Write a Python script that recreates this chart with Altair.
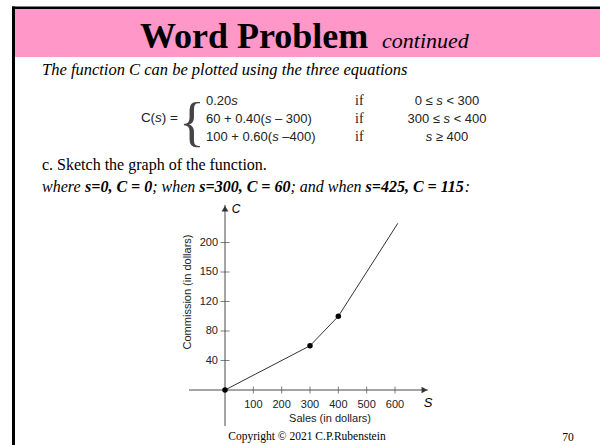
import altair as alt
import pandas as pd

# ---- data -------------------------------------------------------------
# commission curve C(s): breakpoints of the piecewise function
curve_s = [0, 300, 400, 610]
curve_c = [0, 60, 100, 226]

# highlighted points on the curve
dot_s = [0, 300, 400]
dot_c = [0, 60, 100]

# axis ticks and their printed labels
x_tick_values = [100, 200, 300, 400, 500, 600]
x_tick_labels = ["100", "200", "300", "400", "500", "600"]
y_tick_values = [40, 80, 120, 160, 200]
y_tick_labels = ["40", "80", "120", "150", "200"]

# extent of the drawn axis lines (data units)
x_axis_span = [-127, 716]
y_axis_span = [-49, 251]

# piecewise definition shown above the graph ("s" is set in italic)
eq_rows = ["0.20s", "60 + 0.40(s \u2013 300)", "100 + 0.60(s \u2013400)"]
eq_conditions = ["0 \u2264 s < 300", "300 \u2264 s < 400", "s \u2265 400"]

# ---- geometry ---------------------------------------------------------
W, H = 600, 445
ORIGIN_X, ORIGIN_Y = 225, 390
PX_PER_S = 0.28333
PX_PER_C = 0.7375

xs = alt.Scale(domain=[-ORIGIN_X / PX_PER_S, (W - ORIGIN_X) / PX_PER_S], nice=False, zero=False)
ys = alt.Scale(domain=[-(H - ORIGIN_Y) / PX_PER_C, ORIGIN_Y / PX_PER_C], nice=False, zero=False)

SERIF = "Liberation Serif"
SANS = "Liberation Sans"
AXIS_GREY = "#4a4a4a"
EQ_COLOR = "#222"


def X(field):
    return alt.X(field, type="quantitative", scale=xs, axis=None)


def Y(field):
    return alt.Y(field, type="quantitative", scale=ys, axis=None)


one = pd.DataFrame({"k": [0]})


def label(text, x, y, size, font=SERIF, style="normal", weight="normal",
          align="left", baseline="alphabetic", color="black", angle=0):
    return alt.Chart(pd.DataFrame({"t": [text]})).mark_text(
        font=font, fontSize=size, fontStyle=style, fontWeight=weight,
        align=align, baseline=baseline, color=color, angle=angle,
    ).encode(x=alt.value(x), y=alt.value(y), text="t:N")


def box(x0, x1, y0, y1, color):
    return alt.Chart(one).mark_rect(color=color).encode(
        x=alt.value(x0), x2=alt.value(x1), y=alt.value(y0), y2=alt.value(y1)
    )


# advance widths (per 1000 em) used to lay out mixed-style runs
SANS_W = {".": 278, " ": 278, "+": 584, "(": 333, ")": 333, "\u2013": 556,
          "s": 500, "\u2264": 549, "<": 584, "\u2265": 549, "=": 584, "C": 722}
for dgt in "0123456789":
    SANS_W[dgt] = 556


def run_width(text, table, size):
    return sum(table.get(ch, 500) for ch in text) / 1000 * size


def place_run(text, cur, y, size, table, **kw):
    """Draw one run at cursor `cur`; leading blanks only advance the cursor."""
    stripped = text.lstrip(" ")
    start = cur + run_width(text[: len(text) - len(stripped)], table, size)
    return label(stripped, start, y, size, **kw), cur + run_width(text, table, size)


def math_runs(text, x, y, size, align="left"):
    """Draw an expression with every 's' in italic."""
    pieces, buf = [], ""
    for ch in text:
        if ch == "s":
            if buf:
                pieces.append((buf, "normal"))
                buf = ""
            pieces.append(("s", "italic"))
        else:
            buf += ch
    if buf:
        pieces.append((buf, "normal"))
    total = run_width(text, SANS_W, size)
    cur = x - total / 2 if align == "center" else (x - total if align == "right" else x)
    out = []
    for txt, style in pieces:
        mark, cur = place_run(txt, cur, y, size, SANS_W, font=SANS, style=style, color=EQ_COLOR)
        out.append(mark)
    return out


# ---- slide frame and header -------------------------------------------
frame = [
    box(15, 600, 9, 57, "#ff97c9"),
    box(12, 600, 6.5, 9, "black"),
    box(12, 15, 6.5, 445, "black"),
]
header = [
    label("Word Problem", 140, 48, 36, weight="bold"),
    label("continued", 382, 48, 22, style="italic"),
]

# ---- text body --------------------------------------------------------
body = [
    label("The function C can be plotted using the three equations", 42, 75, 16.5, style="italic"),
    label("{", 179, 140, 54, font=SERIF, color="#444"),
    label("c. Sketch the graph of the function.", 42, 170, 16),
]
body += math_runs("C(s) =", 178, 122, 13.5, align="right")
row_base = [105, 123, 141]
for row, cond, yb in zip(eq_rows, eq_conditions, row_base):
    body += math_runs(row, 206, yb, 13)
    body.append(label("if", 355, yb, 14, color=EQ_COLOR))
    body += math_runs(cond, 447, yb, 13, align="center")

# mixed italic / bold-italic sentence, laid out segment by segment
ITALIC_W = {"w": 667, "h": 500, "e": 444, "r": 389, " ": 250, ";": 333,
            "n": 500, "a": 500, "d": 500, ":": 333}
BOLD_ITALIC_W = {"s": 389, "=": 570, ",": 250, " ": 250, "C": 667}
for dgt in "0123456789":
    BOLD_ITALIC_W[dgt] = 500

where_parts = [("where ", False), ("s=0, C = 0", True), ("; when ", False),
               ("s=300, C = 60", True), ("; and when ", False),
               ("s=425, C = 115", True), (":", False)]
cursor = 42.0
WHERE_SIZE = 16
for text, bold in where_parts:
    mark, cursor = place_run(text, cursor, 192, WHERE_SIZE,
                             BOLD_ITALIC_W if bold else ITALIC_W,
                             style="italic", weight="bold" if bold else "normal")
    body.append(mark)

footer = [
    label("Copyright \u00a9 2021 C.P.Rubenstein", 307, 440, 11.5, align="center"),
    label("70", 568, 441, 11.5, align="center"),
]

# ---- graph ------------------------------------------------------------
x_axis = alt.Chart(pd.DataFrame({"a": [x_axis_span[0]], "b": [x_axis_span[1]], "c": [0]})).mark_rule(
    color=AXIS_GREY, strokeWidth=1
).encode(x=X("a"), x2="b", y=Y("c"))

y_axis = alt.Chart(pd.DataFrame({"a": [y_axis_span[0]], "b": [y_axis_span[1]], "s": [0]})).mark_rule(
    color=AXIS_GREY, strokeWidth=1
).encode(x=X("s"), y=Y("a"), y2="b")

x_ticks_df = pd.DataFrame({"s": x_tick_values, "lab": x_tick_labels, "c": 0})
y_ticks_df = pd.DataFrame({"c": y_tick_values, "lab": y_tick_labels, "s": 0})

x_ticks = alt.Chart(x_ticks_df).mark_tick(orient="vertical", size=7, thickness=1, color=AXIS_GREY).encode(
    x=X("s"), y=Y("c"))
y_ticks = alt.Chart(y_ticks_df).mark_tick(orient="horizontal", size=9, thickness=1, color=AXIS_GREY).encode(
    x=X("s"), y=Y("c"))

x_labels = alt.Chart(x_ticks_df).mark_text(
    font=SANS, fontSize=11, color="#222", baseline="middle", align="center", dy=15
).encode(x=X("s"), y=Y("c"), text="lab:N")
y_labels = alt.Chart(y_ticks_df).mark_text(
    font=SANS, fontSize=11, color="#222", baseline="middle", align="right", dx=-7
).encode(x=X("s"), y=Y("c"), text="lab:N")

x_arrow = alt.Chart(pd.DataFrame({"s": [704], "c": [0]})).mark_point(
    shape="triangle-right", filled=True, size=45, color="#333", opacity=1
).encode(x=X("s"), y=Y("c"))
y_arrow = alt.Chart(pd.DataFrame({"s": [0], "c": [246]})).mark_point(
    shape="triangle-up", filled=True, size=45, color="#333", opacity=1
).encode(x=X("s"), y=Y("c"))

curve = alt.Chart(pd.DataFrame({"s": curve_s, "c": curve_c})).mark_line(
    color="#333", strokeWidth=1
).encode(x=X("s"), y=Y("c"), order="s:Q")

dots = alt.Chart(pd.DataFrame({"s": dot_s, "c": dot_c})).mark_circle(
    size=30, color="black", opacity=1
).encode(x=X("s"), y=Y("c"))

axis_text = [
    label("C", 236, 213, 12, font=SANS, style="italic", align="center"),
    label("S", 428, 407, 13, font=SANS, style="italic", align="center"),
    label("Sales (in dollars)", 330, 419, 11, font=SANS, align="center", baseline="middle", color="#222"),
    label("Commission (in dollars)", 188, 292, 11, font=SANS, align="center", baseline="middle",
          color="#222", angle=270),
]

chart = alt.layer(
    *frame, *header, *body, *footer,
    x_axis, y_axis, x_ticks, y_ticks, x_labels, y_labels, x_arrow, y_arrow,
    curve, dots, *axis_text,
).properties(
    width=W, height=H, padding=0, autosize=alt.AutoSizeParams(type="none"), background="white"
).configure_view(stroke=None)

chart.save("out.html", embed_options={"renderer": "svg", "actions": False})
